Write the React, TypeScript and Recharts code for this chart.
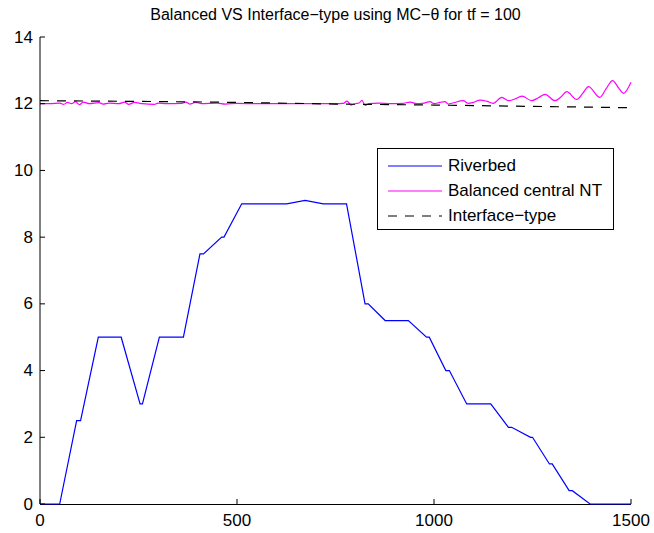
import { Legend, Line, LineChart, XAxis, YAxis } from 'recharts';

const FONT = '"Liberation Sans", Arial, Helvetica, sans-serif';

const chartTitle = 'Balanced VS Interface\u2212type using MC\u2212\u03b8 for tf = 100';

const xTicks = [0, 500, 1000, 1500];
const yTicks = [0, 2, 4, 6, 8, 10, 12, 14];

// bed profile
const riverbedX = [
  0, 50, 93, 103, 148, 206, 254, 260, 303, 364, 406, 415, 461, 467, 512, 626, 673, 719, 778, 825, 833, 876,
  935, 981, 988, 1030, 1039, 1083, 1144, 1189, 1197, 1245, 1250, 1293, 1300, 1343, 1351, 1396, 1500,
];
const riverbedY = [
  0, 0, 2.5, 2.5, 5, 5, 3, 3, 5, 5, 7.5, 7.5, 8, 8, 9, 9, 9.1, 9, 9, 6, 6, 5.5,
  5.5, 5, 5, 4, 4, 3, 3, 2.3, 2.3, 2, 2, 1.2, 1.2, 0.4, 0.4, 0, 0,
];

// balanced central NT scheme, free surface
const centralX = [
  0, 25, 50, 60, 70, 80, 90, 100, 110, 125, 150, 160, 175, 200, 215, 225, 240, 260, 290, 300, 320, 360,
  370, 380, 395, 410, 450, 470, 500, 550, 600, 650, 700, 750, 770, 779, 790, 800, 810, 817, 825, 835,
  860, 890, 920, 940, 955, 975, 990, 1000, 1015, 1028, 1036, 1050, 1074, 1087, 1100, 1117, 1135, 1150,
  1172, 1189, 1205, 1223, 1248, 1265, 1282, 1307, 1322, 1337, 1362, 1377, 1392, 1421, 1437, 1453, 1470,
  1481, 1500,
];
const centralY = [
  12.0, 12.0, 12.02, 11.98, 12.04, 12.0, 12.06, 11.97, 12.05, 12.0, 12.03, 11.99, 12.02, 12.0, 12.05, 11.98,
  12.04, 12.0, 11.98, 12.02, 12.0, 12.01, 12.05, 11.99, 12.04, 12.0, 12.02, 11.99, 12.01, 12.0, 12.0, 12.0,
  12.0, 12.0, 12.01, 12.08, 11.96, 12.0, 12.02, 12.1, 11.95, 12.0, 12.02, 12.0, 12.01, 12.05, 12.0, 12.02,
  12.06, 12.0, 12.04, 12.06, 11.99, 12.03, 12.09, 12.01, 12.04, 12.11, 12.07, 12.01, 12.19, 12.09, 12.14,
  12.23, 12.09, 12.18, 12.28, 12.09, 12.2, 12.36, 12.13, 12.3, 12.51, 12.19, 12.45, 12.69, 12.45, 12.31,
  12.64,
];

// interface-type scheme, free surface
const interfaceX = [0, 250, 500, 750, 1000, 1250, 1500];
const interfaceY = [12.09, 12.07, 12.04, 11.99, 11.96, 11.92, 11.88];

const toPoints = (xs: number[], ys: number[]) => xs.map((x, i) => ({ x, y: ys[i] }));

const riverbed = toPoints(riverbedX, riverbedY);
const central = toPoints(centralX, centralY);
const interfaceType = toPoints(interfaceX, interfaceY);

const DASH = '9 8';

const legendItems = [
  { label: 'Riverbed', color: '#0000ff', dash: undefined },
  { label: 'Balanced central NT', color: '#ff00ff', dash: undefined },
  { label: 'Interface\u2212type', color: '#000000', dash: DASH },
];

function XTick({ x, y, payload }: any) {
  return (
    <g>
      <line x1={x} y1={y} x2={x} y2={y - 5} stroke="#000" strokeWidth={1} />
      <text x={x} y={y + 16} textAnchor="middle" dominantBaseline="central" fontSize={17} fontFamily={FONT} fill="#000">
        {payload.value}
      </text>
    </g>
  );
}

function YTick({ x, y, payload }: any) {
  return (
    <g>
      <line x1={x} y1={y} x2={x + 5} y2={y} stroke="#000" strokeWidth={1} />
      <text x={x - 7} y={y} textAnchor="end" dominantBaseline="central" fontSize={17} fontFamily={FONT} fill="#000">
        {payload.value}
      </text>
    </g>
  );
}

function LegendBox() {
  return (
    <div
      style={{
        boxSizing: 'border-box',
        width: 237,
        height: 82,
        border: '1px solid #000',
        background: '#fff',
        padding: '4px 0 0 10px',
        fontFamily: FONT,
        fontSize: 17,
        color: '#000',
      }}
    >
      {legendItems.map((item) => (
        <div key={item.label} style={{ display: 'flex', alignItems: 'center', height: 25 }}>
          <svg width={54} height={10} style={{ flex: 'none' }}>
            <line x1={0} y1={5} x2={54} y2={5} stroke={item.color} strokeWidth={1.2} strokeDasharray={item.dash} />
          </svg>
          <span style={{ marginLeft: 6, whiteSpace: 'nowrap' }}>{item.label}</span>
        </div>
      ))}
    </div>
  );
}

export default function App() {
  return (
    <div style={{ position: 'absolute', left: 0, top: 0, width: 654, height: 533, background: '#fff' }}>
      {/* bottom axis line sits under the svg so the bed line at zero stays visible on top of it */}
      <div style={{ position: 'absolute', left: 40, top: 503.5, width: 591, height: 1, background: '#000' }} />
      <div
        style={{
          position: 'absolute',
          left: 40,
          width: 591,
          top: 6,
          textAlign: 'center',
          fontFamily: FONT,
          fontSize: 16,
          color: '#000',
          zIndex: 1,
        }}
      >
        {chartTitle}
      </div>
      <LineChart width={654} height={533} margin={{ top: 37, right: 23, bottom: 0, left: 0 }}>
        <XAxis
          dataKey="x"
          type="number"
          domain={[0, 1500]}
          ticks={xTicks}
          interval={0}
          height={29}
          tickSize={0}
          tickMargin={0}
          tickLine={false}
          axisLine={false}
          tick={<XTick />}
        />
        <YAxis
          type="number"
          domain={[0, 14]}
          ticks={yTicks}
          interval={0}
          width={40}
          tickSize={0}
          tickMargin={0}
          tickLine={false}
          axisLine={{ stroke: '#000', strokeWidth: 1 }}
          tick={<YTick />}
        />
        <Legend
          layout="horizontal"
          verticalAlign="middle"
          align="center"
          content={() => <LegendBox />}
          wrapperStyle={{ left: 377, top: 148, width: 237, height: 82 }}
        />
        <Line
          data={riverbed}
          dataKey="y"
          name="Riverbed"
          type="linear"
          stroke="#0000ff"
          strokeWidth={1.2}
          dot={false}
          activeDot={false}
          isAnimationActive={false}
        />
        <Line
          data={central}
          dataKey="y"
          name="Balanced central NT"
          type="monotone"
          stroke="#ff00ff"
          strokeWidth={1.2}
          dot={false}
          activeDot={false}
          isAnimationActive={false}
        />
        <Line
          data={interfaceType}
          dataKey="y"
          name="Interface-type"
          type="linear"
          stroke="#000"
          strokeWidth={1.2}
          strokeDasharray={DASH}
          dot={false}
          activeDot={false}
          isAnimationActive={false}
        />
      </LineChart>
    </div>
  );
}
